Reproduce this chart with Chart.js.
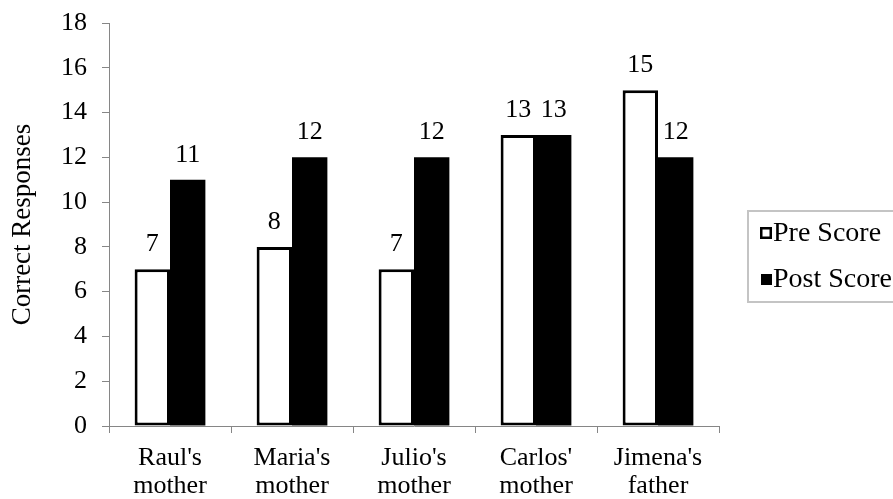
<!DOCTYPE html>
<html>
<head>
<meta charset="utf-8">
<script src="https://cdn.jsdelivr.net/npm/chart.js@4.4.0/dist/chart.umd.min.js"></script>
<style>
  html, body { margin: 0; padding: 0; background: #fff; }
  #wrap { width: 893px; height: 499px; }
</style>
</head>
<body>
<div id="wrap"><canvas id="scoreChart" width="893" height="499"></canvas></div>
<script>
var parents = [["Raul's", "mother"], ["Maria's", "mother"], ["Julio's", "mother"], ["Carlos'", "mother"], ["Jimena's", "father"]];
var preScore = [7, 8, 7, 13, 15];
var postScore = [11, 12, 12, 13, 12];
var seriesNames = ['Pre Score', 'Post Score'];

var serif = "'Liberation Serif', 'Times New Roman', serif";
var axisGray = '#868686';

// value written above every bar
var barValues = {
    id: 'barValues',
    afterDatasetsDraw: function(chart) {
        var ctx = chart.ctx;
        ctx.save();
        ctx.font = '26px ' + serif;
        ctx.fillStyle = '#000';
        ctx.textAlign = 'center';
        ctx.textBaseline = 'alphabetic';
        chart.data.datasets.forEach(function(ds, i) {
            chart.getDatasetMeta(i).data.forEach(function(bar, j) {
                ctx.fillText(ds.data[j], bar.x, bar.y - 18);
            });
        });
        ctx.restore();
    }
};

// boxed legend on the right
var sideLegend = {
    id: 'sideLegend',
    afterDraw: function(chart) {
        var ctx = chart.ctx;
        ctx.save();
        ctx.strokeStyle = '#c4c4c4';
        ctx.lineWidth = 2;
        ctx.strokeRect(748, 211, 160, 91);

        ctx.font = '28px ' + serif;
        ctx.fillStyle = '#000';
        ctx.textBaseline = 'middle';
        var rows = [233, 279];
        chart.data.datasets.forEach(function(ds, i) {
            var y = rows[i];
            if (i === 0) {
                ctx.fillStyle = '#fff';
                ctx.fillRect(761, y - 5, 10, 10);
                ctx.strokeStyle = '#000';
                ctx.lineWidth = 2.5;
                ctx.strokeRect(761.25, y - 4.75, 9.5, 9.5);
            } else {
                ctx.fillStyle = '#000';
                ctx.fillRect(761, y - 5, 11, 11);
            }
            ctx.fillStyle = '#000';
            ctx.fillText(ds.label, 773, y + 1);
        });
        ctx.restore();
    }
};

var scoreChart = new Chart(document.getElementById('scoreChart'), {
    type: 'bar',
    data: {
        labels: parents,
        datasets: [
            {
                label: seriesNames[0],
                data: preScore,
                backgroundColor: '#fff',
                borderColor: '#000',
                borderWidth: 3,
                borderSkipped: false,
                barPercentage: 1.0,
                categoryPercentage: 0.58
            },
            {
                label: seriesNames[1],
                data: postScore,
                backgroundColor: '#000',
                borderColor: '#000',
                borderWidth: 0,
                barPercentage: 1.0,
                categoryPercentage: 0.58
            }
        ]
    },
    options: {
        responsive: false,
        animation: false,
        layout: {
            padding: { top: 23, right: 174, bottom: 0, left: 0 }
        },
        plugins: {
            legend: { display: false },
            tooltip: { enabled: false }
        },
        scales: {
            x: {
                afterFit: function(scale) { scale.height = 73; },
                grid: {
                    offset: true,
                    drawOnChartArea: false,
                    drawTicks: true,
                    tickLength: 7,
                    color: axisGray
                },
                border: { color: axisGray, width: 1 },
                ticks: {
                    color: '#000',
                    padding: 12,
                    maxRotation: 0,
                    font: { family: serif, size: 26, lineHeight: 1.05 }
                }
            },
            y: {
                min: 0,
                max: 18,
                afterFit: function(scale) {
                    scale.width = 109;
                    scale.paddingTop = 0;
                    scale.paddingBottom = 0;
                },
                grid: {
                    drawOnChartArea: false,
                    drawTicks: true,
                    tickLength: 7,
                    color: axisGray
                },
                border: { color: axisGray, width: 1 },
                ticks: {
                    stepSize: 2,
                    color: '#000',
                    padding: 15,
                    font: { family: serif, size: 26 }
                },
                title: {
                    display: true,
                    text: 'Correct Responses',
                    color: '#000',
                    padding: { top: 7, bottom: 0 },
                    font: { family: serif, size: 27 }
                }
            }
        }
    },
    plugins: [barValues, sideLegend]
});
</script>
</body>
</html>
